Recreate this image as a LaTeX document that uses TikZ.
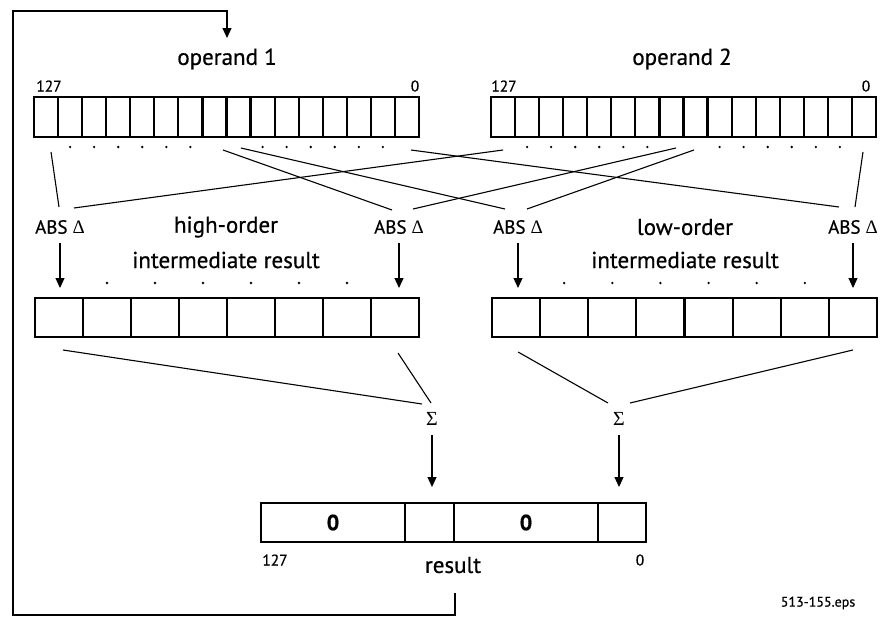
\documentclass[tikz,border=0pt]{standalone}
\usepackage{fontspec}
\setmainfont{PT Sans}[FakeBold=0.6]
\newfontfamily\grk{Liberation Serif}
\usetikzlibrary{arrows.meta}
\begin{document}
\begin{tikzpicture}[x=1pt,y=-1pt,
  cell/.style={draw, line width=2.2pt, minimum height=40pt, inner sep=0pt, outer sep=0pt},
  conn/.style={line width=1.1pt},
  arr/.style={line width=1.2pt, -{Triangle[length=10pt,width=9pt]}},
  lbl/.style={font=\fontsize{23}{25}\selectfont, inner sep=0pt},
  abslbl/.style={font=\fontsize{19}{21}\selectfont, inner sep=0pt},
  num/.style={font=\fontsize{15.5}{17}\selectfont, inner sep=0pt},
  dotmark/.style={fill, circle, minimum size=2.6pt, inner sep=0pt}
]
\useasboundingbox (0,0) rectangle (882,621);

% operand registers
\foreach \k in {0,...,15} {
  \node[cell, minimum width=24.0625pt] (oa\k) at ({34+24.0625*(\k+0.5)},117) {};
  \node[cell, minimum width=24.0625pt] (ob\k) at ({491+24.0625*(\k+0.5)},117) {};
}
\foreach \k in {1,2,3,4,5,6,9,10,11,12,13,14} {
  \node[dotmark] at ([yshift=-10pt]oa\k.south) {};
  \node[dotmark] at ([yshift=-10pt]ob\k.south) {};
}
\node[lbl] (op1) at (227,59) {operand 1};
\node[lbl] (op2) at (682,59) {operand 2};
\node[num] (n1a) at (49,86) {127};
\node[num] (n1b) at (415,86) {0};
\node[num] (n2a) at (504,86) {127};
\node[num] (n2b) at (866,86) {0};

% ABS labels
\node[abslbl] (abs1) at (60,227) {ABS {\grk Δ}};
\node[abslbl] (abs2) at (399,227) {ABS {\grk Δ}};
\node[abslbl] (abs3) at (518,227) {ABS {\grk Δ}};
\node[abslbl] (abs4) at (853,227) {ABS {\grk Δ}};

% crossing connectors
\draw[conn] ([xshift=5pt,yshift=-15pt]oa0.south) -- ([shift={(-1,-20)}]abs1.center);
\draw[conn] ([xshift=0pt,yshift=-13pt]ob0.south) -- ([shift={(14,-19)}]abs1.center);
\draw[conn] ([xshift=8.5pt,yshift=-13pt]oa7.south) -- ([shift={(-7,-17)}]abs2.center);
\draw[conn] ([xshift=4.5pt,yshift=-11pt]ob7.south) -- ([shift={(14,-18)}]abs2.center);
\draw[conn] ([xshift=2.4pt,yshift=-11pt]oa8.south) -- ([shift={(-13,-18)}]abs3.center);
\draw[conn] ([xshift=-1.6pt,yshift=-13pt]ob8.south) -- ([shift={(9,-18)}]abs3.center);
\draw[conn] ([xshift=4pt,yshift=-13pt]oa15.south) -- ([shift={(-14,-20)}]abs4.center);
\draw[conn] ([xshift=-1pt,yshift=-15pt]ob15.south) -- ([shift={(2,-20)}]abs4.center);

% intermediate registers
\foreach \k in {0,...,7} {
  \node[cell, minimum width=48pt, minimum height=39pt] (ha\k) at ({35+48*(\k+0.5)},317.5) {};
  \node[cell, minimum width=48.125pt, minimum height=39pt] (la\k) at ({492+48.125*(\k+0.5)},317.5) {};
}
\foreach \k in {1,...,6} {
  \node[dotmark] at ([yshift=34.5pt]ha\k.center) {};
  \node[dotmark] at ([yshift=34.5pt]la\k.center) {};
}
\node[lbl] (hi1) at (226,227) {high-order};
\node[lbl] (hi2) at (226,260) {intermediate result};
\node[lbl] (lo1) at (685,227) {low-order};
\node[lbl] (lo2) at (685,260) {intermediate result};

\foreach \a in {abs1,abs2,abs3,abs4} {
  \draw[arr] ([yshift=-16pt]\a.center) -- ([yshift=-61pt]\a.center);
}

% sums
\node[abslbl, font=\fontsize{20}{22}\selectfont\grk] (sig1) at (432,419) {Σ};
\node[abslbl, font=\fontsize{20}{22}\selectfont\grk] (sig2) at (619,419) {Σ};
\draw[conn] ([xshift=4pt,yshift=-13pt]ha0.south) -- ([shift={(-10,-15)}]sig1.center);
\draw[conn] ([xshift=3pt,yshift=-16pt]ha7.south) -- ([shift={(-1,-16)}]sig1.center);
\draw[conn] ([xshift=2pt,yshift=-15pt]la0.south) -- ([shift={(-11,-16)}]sig2.center);
\draw[conn] ([xshift=0pt,yshift=-13pt]la7.south) -- ([shift={(11,-16)}]sig2.center);

% result register
\node[cell, minimum width=144pt, minimum height=39pt] (r0) at (333,522.5) {};
\node[cell, minimum width=49pt, minimum height=39pt] (r1) at (429.5,522.5) {};
\node[cell, minimum width=144pt, minimum height=39pt] (r2) at (526,522.5) {};
\node[cell, minimum width=48pt, minimum height=39pt] (r3) at (622,522.5) {};
\node[lbl, font=\fontsize{22}{24}\selectfont\bfseries] at (r0) {0};
\node[lbl, font=\fontsize{22}{24}\selectfont\bfseries] at (r2) {0};
\draw[arr] ([yshift=-16pt]sig1.center) -- ([yshift=16pt]sig1.center |- r1.north);
\draw[arr] ([yshift=-16pt]sig2.center) -- ([yshift=16pt]sig2.center |- r3.north);
\node[num] (n3a) at (275,560) {127};
\node[num] (n3b) at (640,560) {0};
\node[lbl] (res) at (453,565) {result};

% feedback loop
\draw[arr] ([xshift=2pt,yshift=-28pt]res.center) |- (13,615) -- (13,11) -| ([yshift=21pt]op1.center);

\node[font=\fontsize{14}{16}\selectfont, inner sep=0pt] (eps) at (818,603) {513-155.eps};
\end{tikzpicture}
\end{document}
